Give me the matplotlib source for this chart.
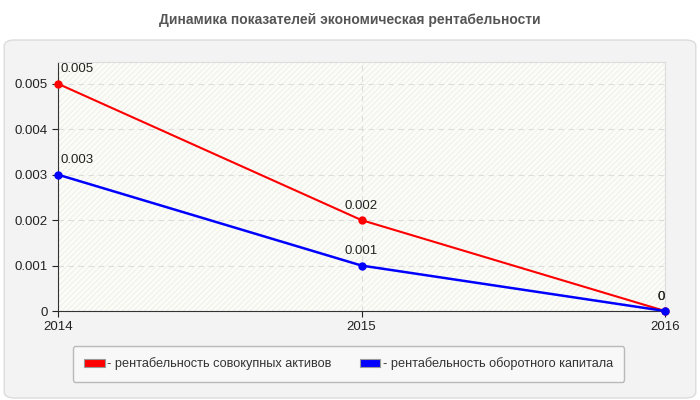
import matplotlib.pyplot as plt
from matplotlib.patches import FancyBboxPatch, Patch

plt.rcParams['font.family'] = ['Liberation Sans', 'DejaVu Sans']

years = [2014, 2015, 2016]
assets = [0.005, 0.002, 0.0]
working = [0.003, 0.001, 0.0]
names = ['- рентабельность совокупных активов', '- рентабельность оборотного капитала']
colors = ['#ff0000', '#0000ff']
yticks = [0, 0.001, 0.002, 0.003, 0.004, 0.005]

fig = plt.figure(figsize=(7, 4), dpi=100)
fig.patch.set_facecolor('white')

# grey rounded panel behind the chart
panel = FancyBboxPatch((0.006, 0.005), 0.988, 0.895, boxstyle='round,pad=0,rounding_size=0.015',
                       transform=fig.transFigure, facecolor='#f3f3f3', edgecolor='#dcdcdc',
                       linewidth=1, zorder=-10)
fig.patches.append(panel)

fig.text(0.5, 0.95, 'Динамика показателей экономическая рентабельности', ha='center', va='center',
         fontsize=10, fontweight='bold', color='#555555')

ax = fig.add_axes([0.083, 0.2225, 0.867, 0.6225])
ax.set_facecolor('#fdfdf8')
ax.add_patch(plt.Rectangle((0, 0), 1, 1, transform=ax.transAxes, facecolor='none',
                           edgecolor='#f1f1ee', hatch='//////', linewidth=0, zorder=0))

ax.set_xlim(2014, 2016)
ax.set_ylim(0, 0.00548)
ax.set_xticks(years)
ax.set_xticklabels([str(y) for y in years])
ax.set_yticks(yticks)
ax.set_yticklabels(['0', '0.001', '0.002', '0.003', '0.004', '0.005'])
ax.tick_params(labelsize=9.5, colors='#222222', length=4)
ax.grid(True, linestyle=(0, (5, 4)), color='#dddddd', linewidth=0.8)
ax.set_axisbelow(True)
for s in ['top', 'right']:
    ax.spines[s].set_color('#dddddd')
for s in ['left', 'bottom']:
    ax.spines[s].set_color('#333333')

for vals, c, lw in [(assets, colors[0], 1.5), (working, colors[1], 1.8)]:
    ax.plot(years, vals, color=c, linewidth=lw, marker='o', markersize=5, zorder=3, clip_on=False)
    for i, (x, v) in enumerate(zip(years, vals)):
        ha = ['left', 'center', 'right'][i]
        dx = [2, 0, 0][i]
        lbl = '0' if v == 0 else '%g' % v
        ax.annotate(lbl, (x, v), xytext=(dx, 6), textcoords='offset points', ha=ha,
                    va='bottom', fontsize=9.5, color='#222222')

handles = [Patch(facecolor=c, edgecolor='#999999', linewidth=0.8) for c in colors]
leg = fig.legend(handles, names, loc='center', bbox_to_anchor=(0.498, 0.09), ncol=2,
                 fontsize=9.2, frameon=True, fancybox=True, handlelength=1.6, handleheight=0.7,
                 handletextpad=0.2, columnspacing=2.2, borderpad=0.9)
leg.get_frame().set_facecolor('#fafafa')
leg.get_frame().set_edgecolor('#aaaaaa')
for t in leg.get_texts():
    t.set_color('#333333')

fig.savefig('out.png', dpi=100)
